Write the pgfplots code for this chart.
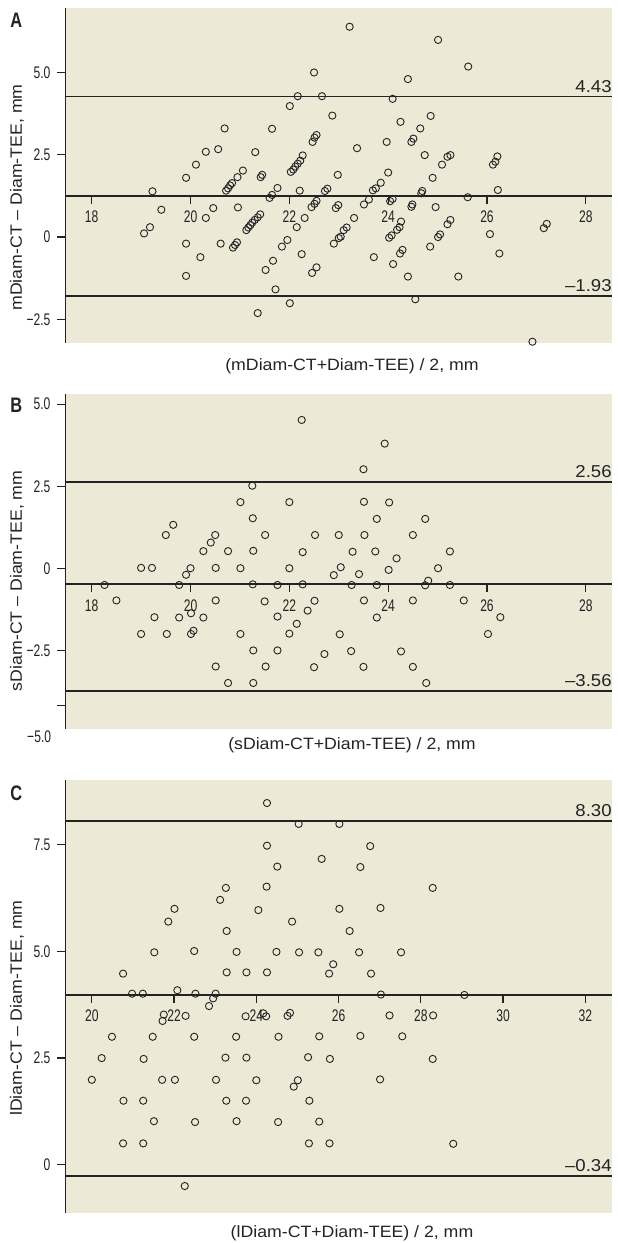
\documentclass[border=0pt]{standalone}
\usepackage{pgfplots}
\pgfplotsset{compat=1.18}
\usepackage{fontspec}
\setmainfont{Liberation Sans}
\newfontfamily\tickfont[FakeStretch=0.72]{Liberation Sans}
\newfontfamily\lblfont[FakeStretch=1.08]{Liberation Sans}
\newfontfamily\letterfont[FakeStretch=0.78]{Liberation Sans}
\definecolor{bg}{RGB}{236,233,215}
\definecolor{ink}{RGB}{35,35,35}
\newcommand{\tf}{\tickfont\fontsize{8.4}{9}\selectfont}
\newcommand{\lf}{\lblfont\fontsize{8.2}{9}\selectfont}
\newcommand{\vf}{\lblfont\fontsize{8.6}{9}\selectfont}
\newcommand{\bfl}{\letterfont\bfseries\fontsize{10.5}{12}\selectfont}
\tikzset{vlab/.style={anchor=base east, inner sep=0pt, font=\vf, text=ink, yshift=2.2pt}}
\pgfplotsset{
  base/.style={scale only axis, anchor=north west, width=273.25pt, enlargelimits=false, clip=false},
  main/.style={base, axis x line=none, axis y line*=left, xtick=\empty,
    axis background/.style={fill=bg},
    y axis line style={line width=0.8pt, color=ink},
    ytick align=outside, major tick length=4pt,
    tick style={line width=0.6pt, color=ink},
    yticklabel style={font=\tf, text=ink}},
  over/.style={base, axis y line=none, axis x line=middle, ytick=\empty,
    x axis line style={-, line width=0.85pt, color=ink},
    xtick align=outside, major tick length=4pt,
    tick style={line width=0.6pt, color=ink},
    xticklabel style={font=\tf, text=ink}},
  pts/.style={only marks, mark=o, mark size=1.8pt, mark options={line width=0.45pt, draw=ink}},
  lim/.style={line width=0.85pt, color=ink, no marks}
}
\begin{document}
\begin{tikzpicture}
\useasboundingbox (0,0) rectangle (308.5pt,-621.5pt);
% ---------------- Panel A ----------------
\begin{axis}[main, at={(32.75pt,-4.15pt)}, height=167.2pt,
  xmin=17.47, xmax=28.53, ymin=-3.21, ymax=6.95,
  ytick={-2.5,0,2.5,5}, yticklabels={−2.5,0,2.5,5.0}]
\addplot[lim] coordinates {(17.47,4.27) (28.53,4.27)};
\addplot[lim] coordinates {(17.47,-1.79) (28.53,-1.79)};
\addplot[pts] coordinates {
(23.22,6.39) (25.01,5.99) (25.62,5.18) (22.50,5.00) (24.40,4.80) (22.17,4.28) (22.66,4.28) (24.09,4.20) (22.01,3.98) (24.25,3.50) (22.87,3.69) (24.86,3.68) (20.69,3.30) (21.65,3.29) (24.65,3.30) (23.97,2.89) (23.37,2.70) (22.47,2.89) (22.51,3.02) (22.55,3.10) (24.47,2.89) (24.51,2.99) (20.31,2.59) (20.56,2.67) (21.31,2.58) (24.74,2.49) (25.20,2.44) (25.26,2.49) (26.12,2.20) (26.17,2.29) (26.21,2.45) (20.11,2.20) (25.09,2.20) (22.03,1.98) (22.08,2.05) (22.12,2.14) (22.17,2.23) (22.22,2.32) (22.27,2.48) (21.06,2.02) (19.91,1.80) (20.95,1.82) (21.42,1.82) (21.45,1.89) (22.98,1.89) (24.00,1.96) (24.90,1.80) (20.72,1.41) (20.76,1.48) (20.80,1.57) (20.84,1.64) (21.76,1.49) (21.60,1.19) (21.65,1.28) (19.23,1.39) (22.21,1.41) (22.72,1.40) (22.77,1.47) (23.69,1.42) (23.75,1.48) (23.85,1.65) (23.61,1.14) (24.69,1.40) (24.67,1.33) (26.22,1.43) (25.61,1.21) (24.04,1.09) (24.09,1.16) (23.51,0.99) (22.99,0.97) (22.94,0.88) (22.45,0.91) (22.51,1.01) (22.55,1.10) (24.47,0.92) (24.49,0.99) (24.96,0.91) (19.41,0.83) (20.46,0.88) (20.96,0.90) (21.30,0.52) (21.36,0.60) (21.41,0.69) (21.13,0.21) (21.17,0.29) (21.21,0.36) (21.25,0.44) (20.31,0.58) (22.31,0.58) (23.31,0.58) (22.15,0.30) (23.10,0.21) (23.16,0.29) (24.18,0.22) (24.23,0.30) (24.26,0.47) (25.20,0.39) (25.26,0.52) (19.18,0.30) (19.06,0.11) (26.06,0.09) (27.15,0.27) (27.21,0.40) (23.00,-0.03) (23.04,0.01) (24.02,-0.02) (24.07,0.05) (25.01,0.00) (25.05,0.08) (19.91,-0.20) (20.61,-0.20) (20.86,-0.32) (20.90,-0.24) (20.94,-0.16) (21.96,-0.09) (21.85,-0.29) (22.90,-0.20) (24.85,-0.29) (20.20,-0.61) (22.25,-0.52) (24.24,-0.50) (24.29,-0.39) (26.25,-0.50) (23.71,-0.61) (21.67,-0.72) (24.10,-0.82) (22.55,-0.92) (22.46,-1.09) (21.52,-1.00) (19.91,-1.18) (24.40,-1.20) (25.42,-1.20) (21.72,-1.59) (24.55,-1.89) (22.01,-2.01) (21.36,-2.31) (26.92,-3.18)
};
\node[vlab] at (axis cs:28.53,4.27) {4.43};
\node[vlab] at (axis cs:28.53,-1.79) {–1.93};
\end{axis}
\begin{axis}[over, at={(32.75pt,-4.15pt)}, height=167.2pt,
  xmin=17.47, xmax=28.53, ymin=-4.465, ymax=5.695,
  xtick={18,20,22,24,26,28}, xticklabels={18,20,22,24,26,28}]
\end{axis}
% ---------------- Panel B ----------------
\begin{axis}[main, at={(32.75pt,-197.15pt)}, height=167.35pt,
  xmin=17.47, xmax=28.53, ymin=-4.88, ymax=5.30,
  ytick={-2.5,0,2.5,5}, yticklabels={−2.5,0,2.5,5.0},
  extra y ticks={-4.17}, extra y tick labels={}]
\addplot[lim] coordinates {(17.47,2.63) (28.53,2.63)};
\addplot[lim] coordinates {(17.47,-3.72) (28.53,-3.72)};
\addplot[pts] coordinates {
(22.25,4.52) (23.93,3.80) (23.50,3.02) (21.25,2.52) (21.01,2.02) (22.00,2.02) (23.51,2.03) (24.02,2.01) (21.26,1.53) (23.77,1.51) (24.75,1.51) (19.65,1.33) (19.50,1.02) (20.50,1.02) (21.51,1.02) (22.52,1.02) (23.00,1.02) (23.52,1.02) (24.50,1.02) (20.41,0.79) (20.26,0.53) (20.76,0.53) (21.27,0.54) (22.27,0.50) (23.28,0.51) (23.74,0.52) (25.25,0.52) (24.17,0.31) (19.00,0.02) (19.22,0.02) (20.00,0.01) (20.51,0.02) (21.01,0.01) (22.00,0.01) (23.04,0.04) (24.01,-0.04) (25.01,0.01) (19.91,-0.19) (22.90,-0.20) (23.41,-0.17) (24.81,-0.37) (18.26,-0.50) (19.77,-0.50) (21.26,-0.48) (21.76,-0.50) (22.27,-0.48) (23.26,-0.50) (23.77,-0.50) (24.75,-0.51) (25.25,-0.50) (18.50,-0.97) (20.51,-0.97) (21.50,-1.00) (22.51,-0.98) (23.51,-0.97) (24.50,-0.97) (25.53,-0.97) (22.37,-1.28) (20.01,-1.36) (19.27,-1.48) (19.77,-1.49) (20.26,-1.49) (21.76,-1.46) (23.77,-1.49) (26.27,-1.48) (22.15,-1.68) (20.06,-1.89) (20.01,-1.99) (19.00,-1.99) (19.52,-1.99) (21.01,-1.99) (22.00,-1.98) (23.02,-2.00) (26.02,-1.99) (21.27,-2.49) (21.76,-2.49) (23.25,-2.51) (24.26,-2.52) (22.71,-2.60) (20.51,-2.98) (21.52,-2.98) (22.50,-3.00) (23.50,-2.99) (24.50,-2.99) (20.76,-3.48) (21.27,-3.48) (24.77,-3.48)
};
\node[vlab] at (axis cs:28.53,2.63) {2.56};
\node[vlab] at (axis cs:28.53,-3.72) {–3.56};
\node[anchor=east, inner sep=0pt, font=\tf, text=ink, xshift=-7pt] at (axis cs:17.47,-5.1) {−5.0};
\end{axis}
\begin{axis}[over, at={(32.75pt,-197.15pt)}, height=167.35pt,
  xmin=17.47, xmax=28.53, ymin=-4.403, ymax=5.777,
  xtick={18,20,22,24,26,28}, xticklabels={18,20,22,24,26,28}]
\end{axis}
% ---------------- Panel C ----------------
\begin{axis}[main, at={(32.75pt,-390pt)}, height=216.65pt,
  xmin=19.36, xmax=32.65, ymin=-1.14, ymax=9.02,
  ytick={0,2.5,5,7.5}, yticklabels={0,2.5,5.0,7.5}]
\addplot[lim] coordinates {(19.36,8.06) (32.65,8.06)};
\addplot[lim] coordinates {(19.36,-0.26) (32.65,-0.26)};
\addplot[pts] coordinates {
(24.26,8.48) (25.03,7.99) (26.02,7.99) (24.26,7.48) (26.77,7.47) (25.59,7.17) (24.51,6.99) (26.53,6.98) (23.26,6.49) (24.25,6.52) (28.29,6.49) (23.12,6.21) (22.01,6.00) (24.05,5.97) (26.02,6.00) (27.02,6.02) (21.86,5.70) (24.87,5.70) (23.28,5.48) (26.27,5.48) (21.52,4.98) (22.49,5.01) (23.52,4.99) (24.49,4.99) (25.04,4.98) (25.51,4.98) (26.50,4.98) (27.52,4.98) (25.87,4.70) (20.76,4.48) (23.28,4.51) (23.76,4.51) (24.26,4.51) (25.77,4.48) (26.79,4.48) (22.08,4.09) (20.98,4.01) (21.24,4.01) (22.52,4.01) (23.01,4.01) (22.95,3.90) (27.03,3.99) (29.06,3.98) (22.85,3.72) (21.75,3.52) (21.72,3.37) (22.28,3.49) (23.74,3.48) (24.17,3.55) (24.24,3.48) (24.76,3.49) (24.82,3.56) (27.24,3.50) (28.30,3.50) (20.49,3.00) (21.48,3.00) (22.49,3.00) (23.51,3.00) (24.54,3.00) (25.53,3.01) (26.53,3.02) (27.55,3.01) (20.24,2.50) (21.26,2.48) (23.25,2.51) (23.76,2.51) (25.26,2.52) (25.79,2.48) (28.29,2.48) (20.00,1.99) (21.71,1.99) (22.02,1.99) (23.02,1.99) (24.00,1.98) (25.01,1.98) (24.91,1.83) (27.01,2.00) (20.77,1.50) (21.25,1.50) (23.27,1.50) (23.75,1.50) (25.29,1.50) (21.51,1.02) (22.51,1.00) (23.52,1.02) (24.53,1.00) (25.53,1.01) (20.76,0.50) (21.25,0.50) (25.28,0.50) (25.78,0.50) (28.79,0.49) (22.26,-0.50)
};
\node[vlab] at (axis cs:32.65,8.06) {8.30};
\node[vlab] at (axis cs:32.65,-0.26) {–0.34};
\end{axis}
\begin{axis}[over, at={(32.75pt,-390pt)}, height=216.65pt,
  xmin=19.36, xmax=32.65, ymin=-5.12, ymax=5.04,
  xtick={20,22,24,26,28,30,32}, xticklabels={20,22,24,26,28,30,32}]
\end{axis}
% ---------------- Text ----------------
\node[anchor=north west, inner sep=0pt, font=\bfl, text=ink] at (5pt,-6.5pt) {A};
\node[anchor=north west, inner sep=0pt, font=\bfl, text=ink] at (5pt,-199pt) {B};
\node[anchor=north west, inner sep=0pt, font=\bfl, text=ink] at (5pt,-392.5pt) {C};
\node[font=\lf, text=ink] at (176pt,-183pt) {(mDiam-CT+Diam-TEE) / 2, mm};
\node[font=\lf, text=ink] at (176pt,-372.5pt) {(sDiam-CT+Diam-TEE) / 2, mm};
\node[font=\lf, text=ink] at (176pt,-616.5pt) {(lDiam-CT+Diam-TEE) / 2, mm};
\node[rotate=90, font=\lf, text=ink] at (8.5pt,-98.75pt) {mDiam-CT – Diam-TEE, mm};
\node[rotate=90, font=\lf, text=ink] at (8.5pt,-290.4pt) {sDiam-CT – Diam-TEE, mm};
\node[rotate=90, font=\lf, text=ink] at (8.5pt,-504pt) {lDiam-CT – Diam-TEE, mm};
\end{tikzpicture}
\end{document}
